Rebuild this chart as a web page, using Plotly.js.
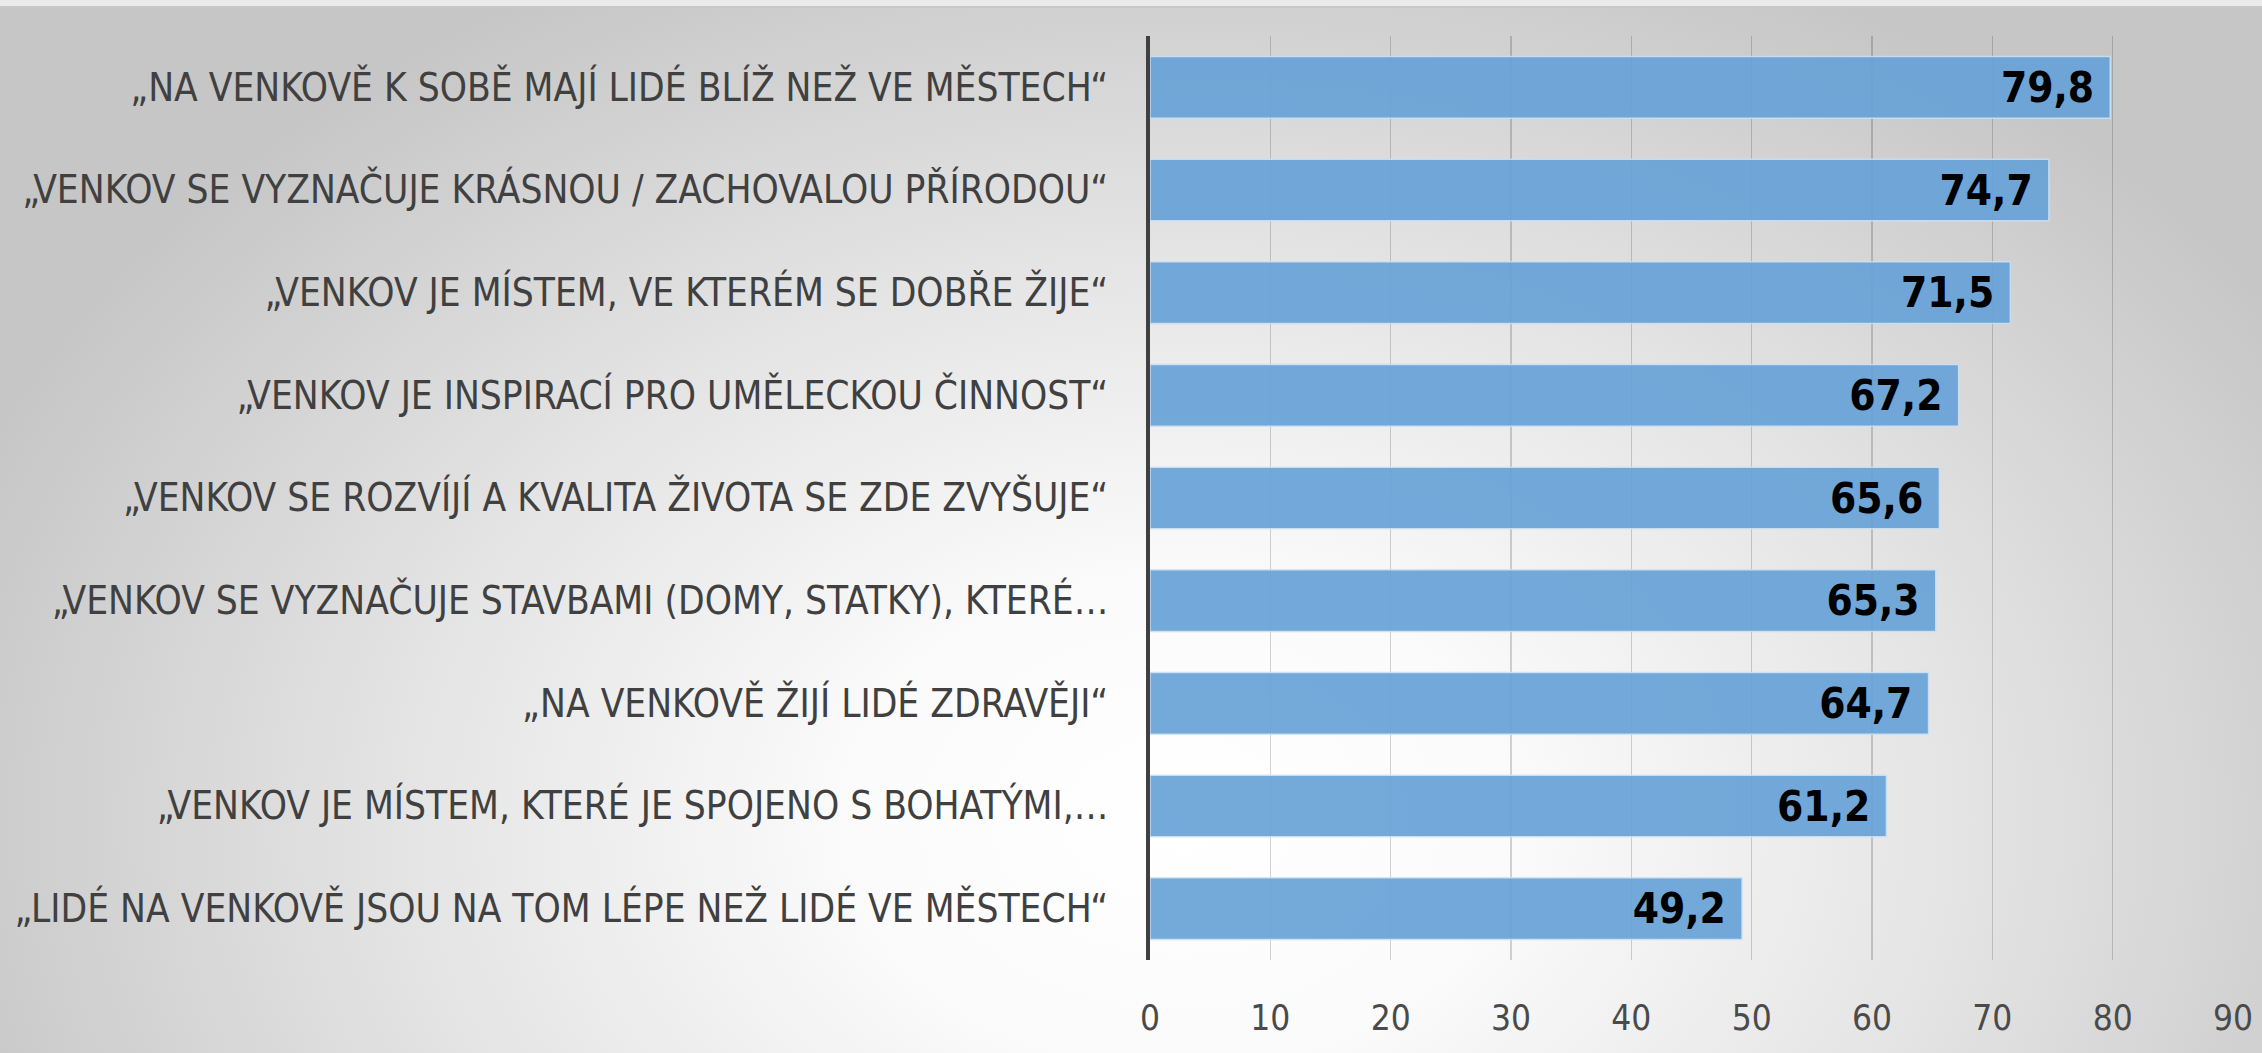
<!DOCTYPE html>
<html>
<head>
<meta charset="utf-8">
<script src="https://cdn.plot.ly/plotly-3.0.1.min.js"></script>
<style>
  html, body { margin: 0; padding: 0; width: 2262px; height: 1053px; overflow: hidden; }
  body {
    background: radial-gradient(ellipse 1300px 950px at 1180px 820px, #ffffff 0%, #fbfbfb 25%, #e4e4e4 60%, #c6c6c6 100%);
    position: relative;
  }
  #topstrip { position: absolute; left: 0; top: 0; width: 2262px; height: 6px; background: #ebebeb; border-bottom: 2px solid #c8c8c8; }
  #chart { position: absolute; left: 0; top: 0; width: 2262px; height: 1053px; }
</style>
</head>
<body>
<div id="topstrip"></div>
<div id="chart"></div>
<script>
const categories = [
  "„NA VENKOVĚ K SOBĚ MAJÍ LIDÉ BLÍŽ NEŽ VE MĚSTECH“",
  "„VENKOV SE VYZNAČUJE KRÁSNOU / ZACHOVALOU PŘÍRODOU“",
  "„VENKOV JE MÍSTEM, VE KTERÉM SE DOBŘE ŽIJE“",
  "„VENKOV JE INSPIRACÍ PRO UMĚLECKOU ČINNOST“",
  "„VENKOV SE ROZVÍJÍ A KVALITA ŽIVOTA SE ZDE ZVYŠUJE“",
  "„VENKOV SE VYZNAČUJE STAVBAMI (DOMY, STATKY), KTERÉ…",
  "„NA VENKOVĚ ŽIJÍ LIDÉ ZDRAVĚJI“",
  "„VENKOV JE MÍSTEM, KTERÉ JE SPOJENO S BOHATÝMI,…",
  "„LIDÉ NA VENKOVĚ JSOU NA TOM LÉPE NEŽ LIDÉ VE MĚSTECH“"
];
const values = [79.8, 74.7, 71.5, 67.2, 65.6, 65.3, 64.7, 61.2, 49.2];
const xTicks = [0, 10, 20, 30, 40, 50, 60, 70, 80, 90];

const FONT = '"DejaVu Sans Condensed", "Liberation Sans", sans-serif';

const trace = {
  type: 'bar',
  orientation: 'h',
  x: values,
  y: categories,
  marker: {
    color: 'rgb(104,163,216)',
    opacity: 0.92,
    line: { color: 'rgba(205,225,245,0.9)', width: 1.5 }
  },
  texttemplate: '%{x:.1f}\u00a0',
  textposition: 'inside',
  insidetextanchor: 'end',
  textangle: 0,
  textfont: { family: FONT, size: 42, color: '#000000', weight: 'bold' },
  cliponaxis: false,
  hoverinfo: 'skip'
};

const layout = {
  width: 2262,
  height: 1053,
  paper_bgcolor: 'rgba(0,0,0,0)',
  plot_bgcolor: 'rgba(0,0,0,0)',
  separators: ', ',
  margin: { l: 1150, r: 29, t: 36, b: 93, pad: 0 },
  bargap: 0.4,
  showlegend: false,
  font: { family: FONT, color: '#404040' },
  xaxis: {
    range: [0, 90],
    tickvals: xTicks,
    ticktext: xTicks.map(String),
    showgrid: true,
    gridcolor: 'rgba(0,0,0,0.17)',
    gridwidth: 1.5,
    zeroline: false,
    showline: false,
    ticks: '',
    ticklabelstandoff: 34,
    tickfont: { family: FONT, size: 35, color: '#4a4a4a' },
    fixedrange: true
  },
  yaxis: {
    type: 'category',
    autorange: 'reversed',
    showgrid: false,
    zeroline: false,
    showline: true,
    linecolor: '#404040',
    linewidth: 4,
    ticks: '',
    ticklabelstandoff: 30,
    tickfont: { family: FONT, size: 38.5, color: '#404040' },
    fixedrange: true
  }
};

Plotly.newPlot('chart', [trace], layout, { staticPlot: true, displayModeBar: false });
</script>
</body>
</html>
